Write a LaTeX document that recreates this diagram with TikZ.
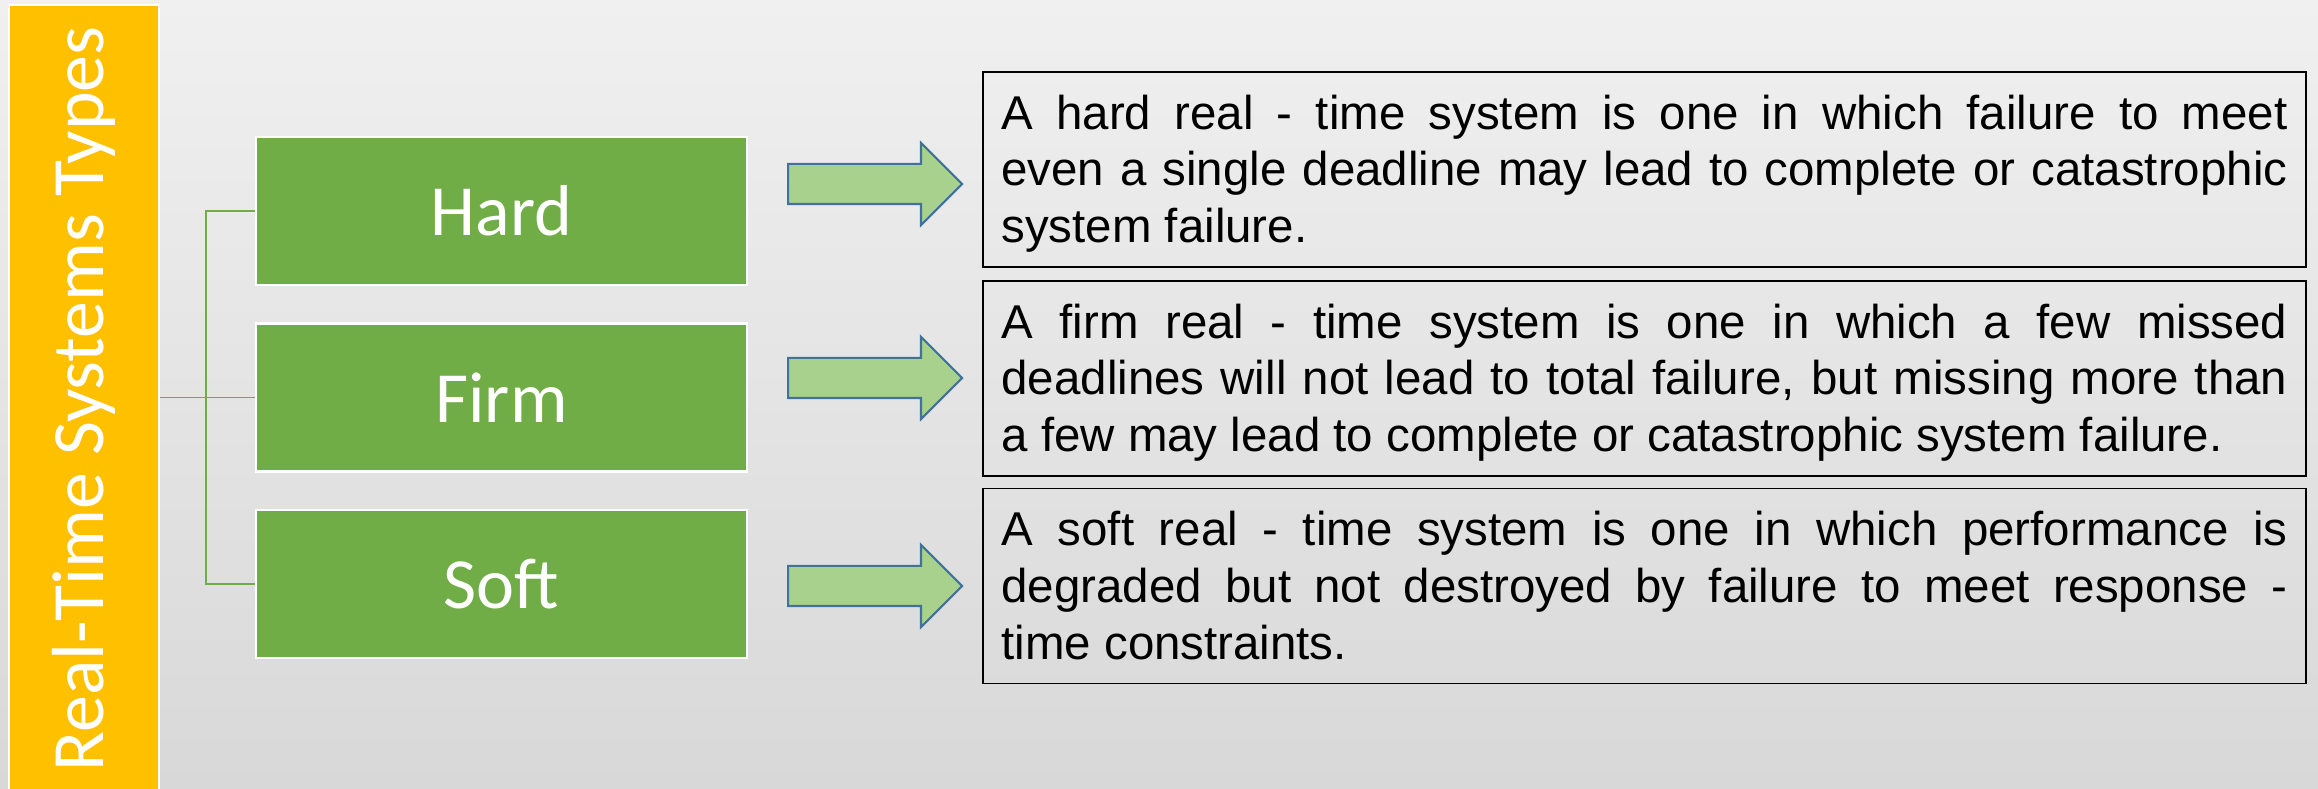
\documentclass[tikz,border=0pt]{standalone}
\usepackage{fontspec}
\usepackage{tikz}
\usetikzlibrary{shapes.arrows,positioning}
\newfontfamily\calfont{Carlito}
\newfontfamily\arialfont{Liberation Sans}
% same first-line height and last-line depth in every description
\newcommand{\linestrut}{\rule[-0.10cm]{0pt}{0.53cm}}

\begin{document}
\begin{tikzpicture}[
  x=1cm,
  y=1cm,
  typebar/.style={draw=white,line width=0.6pt,fill=rtyellow,
    minimum width=1.50cm,minimum height=7.88cm,inner sep=0pt},
  bartitle/.style={font=\calfont\fontsize{21}{24}\selectfont,text=white,
    rotate=90,inner sep=0pt},
  kind/.style={draw=white,line width=0.6pt,fill=rtgreen,minimum width=4.91cm,
    minimum height=1.48cm,inner sep=0pt,text=white,
    font=\calfont\fontsize{20.5}{24}\selectfont},
  branch/.style={draw=rtgreen,line width=0.45pt},
  pointer/.style={single arrow,draw=rtblue,fill=rtlime,line width=0.6pt,
    minimum height=1.74cm,minimum width=0.80cm,single arrow head extend=0.21cm,
    single arrow tip angle=90,inner xsep=0pt,inner ysep=0.19cm,anchor=tail},
  desc/.style={draw=black,line width=0.5pt,minimum width=13.23cm,
    minimum height=1.95cm,text width=12.86cm,inner xsep=0.185cm,
    align=justify,font=\arialfont\fontsize{13.5}{16.2}\selectfont}
]
  \definecolor{rtyellow}{HTML}{FFC000}
  \definecolor{rtgreen}{HTML}{70AD47}
  \definecolor{rtlime}{HTML}{A9D18E}
  \definecolor{rtblue}{HTML}{41719C}
  \definecolor{bgtop}{HTML}{F0F0F0}
  \definecolor{bgbottom}{HTML}{D8D8D8}

  \useasboundingbox (0,0) rectangle (23.18,7.88);
  \fill[top color=bgtop,bottom color=bgbottom] (0,0) rectangle (23.18,7.88);

  \node[typebar] (types) at (0.84,3.89) {};
  \node[bartitle] (typestitle) at (types.center) {Real-Time Systems Types};

  \node[kind] (hard) at (5.015,5.77) {Hard};
  \node[kind] (firm) at (5.015,3.905) {Firm};
  \node[kind] (soft) at (5.015,2.04) {Soft};

  \draw[branch] (types.east |- firm.west) -- (firm.west);
  \draw[branch] (hard.west) -- ++(-0.49,0) |- (soft.west);

  \node[pointer] (hardptr) at (7.87,6.04) {};
  \node[pointer] (firmptr) at (7.87,4.10) {};
  \node[pointer] (softptr) at (7.87,2.02) {};

  \node[desc] (harddesc) at (16.445,6.185)
    {\linestrut A hard real - time system is one in which failure to meet\linebreak
     even a single deadline may lead to complete or catastrophic\linebreak
     system failure.\linestrut};
  \node[desc] (firmdesc) at (16.445,4.095)
    {\linestrut A firm real - time system is one in which a few missed\linebreak
     deadlines will not lead to total failure, but missing more than\linebreak
     a few may lead to complete or catastrophic system failure.\linestrut};
  \node[desc] (softdesc) at (16.445,2.02)
    {\linestrut A soft real - time system is one in which performance is\linebreak
     degraded but not destroyed by failure to meet response -\linebreak
     time constraints.\linestrut};
\end{tikzpicture}
\end{document}
